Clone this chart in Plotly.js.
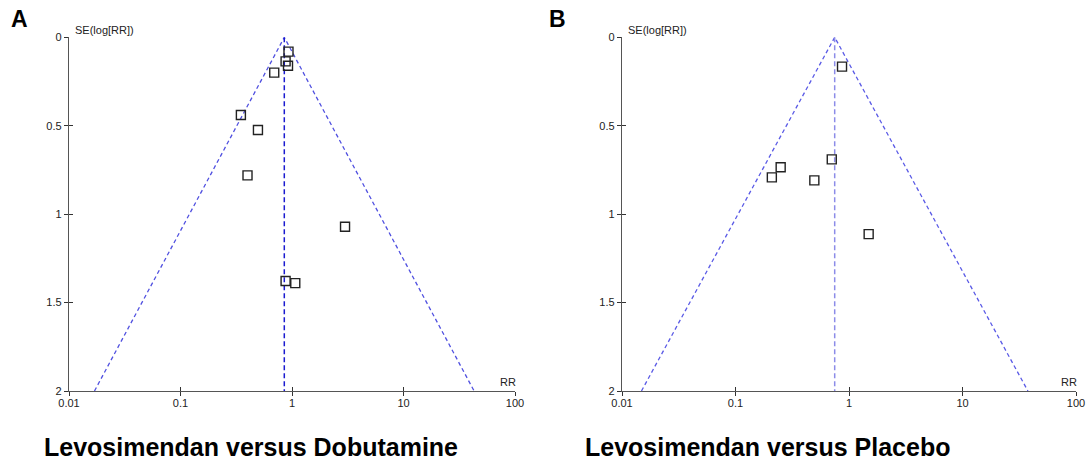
<!DOCTYPE html>
<html><head><meta charset="utf-8">
<script src="https://cdn.plot.ly/plotly-3.0.1.min.js"></script>
<style>html,body{margin:0;padding:0;background:#fff}#chart{width:1090px;height:465px}</style>
</head><body><div id="chart"></div>
<script>
// ---- data ----
const panelLabels = ['A', 'B'];
const comparisons = ['Levosimendan versus Dobutamine', 'Levosimendan versus Placebo'];
const rrA = [0.93, 0.876, 0.921, 0.693, 0.348, 0.495, 0.399, 2.99, 0.876, 1.07];
const seA = [0.081, 0.136, 0.161, 0.200, 0.439, 0.524, 0.781, 1.071, 1.378, 1.390];
const rrB = [0.868, 0.705, 0.250, 0.209, 0.495, 1.49];
const seB = [0.166, 0.690, 0.735, 0.792, 0.809, 1.113];
const pooledRR = [0.853, 0.748];
const seMax = 2;
const xTickVals = [0.01, 0.1, 1, 10, 100];
const xTickText = ['0.01', '0.1', '1', '10', '100'];
const yTickVals = [0, 0.5, 1, 1.5, 2];
const yTickText = ['0', '0.5', '1', '1.5', '2'];
const xTitle = 'RR';
const yTitle = 'SE(log[RR])';

// ---- styling ----
const W = 1090, H = 465;
const sans = '"Liberation Sans", Arial, sans-serif';
const axisColor = '#555';
const panels = [
  {rr: rrA, se: seA, pooled: pooledRR[0], xd: [69, 515], funnel: '#5050e0', vline: '#1a1ad0'},
  {rr: rrB, se: seB, pooled: pooledRR[1], xd: [622, 1076], funnel: '#5a5ae6', vline: '#8c8ce8'}
];
const yPix = [37.3, 391];
const yDomain = [1 - yPix[1] / H, 1 - yPix[0] / H];

const traces = [];
const layout = {
  width: W, height: H,
  margin: {l: 0, r: 0, t: 0, b: 0},
  paper_bgcolor: '#fff', plot_bgcolor: '#fff',
  showlegend: false,
  annotations: []
};

panels.forEach((p, i) => {
  const n = i + 1;
  const xa = n === 1 ? 'x' : 'x' + n;
  const ya = n === 1 ? 'y' : 'y' + n;
  const k = 1.96 * seMax;
  traces.push({
    x: [p.pooled * Math.exp(-k), p.pooled, p.pooled * Math.exp(k)],
    y: [seMax, 0, seMax],
    xaxis: xa, yaxis: ya, mode: 'lines', hoverinfo: 'skip',
    line: {color: p.funnel, width: 1.3, dash: '4px,3px'}
  });
  traces.push({
    x: [p.pooled, p.pooled], y: [0, seMax],
    xaxis: xa, yaxis: ya, mode: 'lines', hoverinfo: 'skip',
    line: {color: p.vline, width: 1.5, dash: '5px,3px'}
  });
  traces.push({
    x: p.rr, y: p.se, xaxis: xa, yaxis: ya, mode: 'markers', cliponaxis: false,
    marker: {symbol: 'square-open', size: 9, color: '#222', line: {width: 1.4, color: '#222'}}
  });
  traces.push({x: [1], y: [1], xaxis: 'x' + (n + 2), yaxis: ya, mode: 'none', hoverinfo: 'skip'});
  traces.push({x: [1], y: [1], xaxis: xa, yaxis: 'y' + (n + 2), mode: 'none', hoverinfo: 'skip'});

  const dom = [p.xd[0] / W, p.xd[1] / W];
  const xBase = {
    type: 'log', range: [-2, 2], tickvals: xTickVals, ticktext: xTickText,
    showgrid: false, zeroline: false, ticklen: 4, tickwidth: 1, tickcolor: '#333',
    tickfont: {family: sans, size: 11, color: '#222'}, fixedrange: true
  };
  const yBase = {
    range: [seMax, 0], tickvals: yTickVals, ticktext: yTickText,
    showgrid: false, zeroline: false, ticklen: 4, tickwidth: 1, tickcolor: '#333',
    tickfont: {family: sans, size: 11, color: '#222'}, fixedrange: true
  };
  layout[n === 1 ? 'xaxis' : 'xaxis' + n] = Object.assign({}, xBase, {
    domain: dom, anchor: ya, ticks: 'outside', showline: true, linecolor: axisColor, linewidth: 1.2,
    ticklabelstandoff: -2
  });
  layout[n === 1 ? 'yaxis' : 'yaxis' + n] = Object.assign({}, yBase, {
    domain: yDomain, anchor: xa, ticks: 'outside', showline: true, linecolor: axisColor, linewidth: 1.2
  });
  layout['xaxis' + (n + 2)] = Object.assign({}, xBase, {
    overlaying: xa, anchor: ya, ticks: 'inside', showline: false, showticklabels: false
  });
  layout['yaxis' + (n + 2)] = Object.assign({}, yBase, {
    overlaying: ya, anchor: xa, ticks: 'inside', showline: false, showticklabels: false
  });

  layout.annotations.push({
    xref: 'paper', yref: 'paper', x: (p.xd[0] + 4) / W, y: 1 - 30 / H,
    xanchor: 'left', yanchor: 'middle', showarrow: false, text: yTitle,
    font: {family: sans, size: 11, color: '#222'}
  });
  layout.annotations.push({
    xref: 'paper', yref: 'paper', x: (p.xd[1] - 7) / W, y: 1 - 382 / H,
    xanchor: 'center', yanchor: 'middle', showarrow: false, text: xTitle,
    font: {family: sans, size: 11, color: '#222'}
  });
  layout.annotations.push({
    xref: 'paper', yref: 'paper', x: (i === 0 ? 19.5 : 557) / W, y: 1 - 19 / H,
    xanchor: 'center', yanchor: 'middle', showarrow: false, text: '<b>' + panelLabels[i] + '</b>',
    font: {family: sans, size: 23, color: '#000'}
  });
  layout.annotations.push({
    xref: 'paper', yref: 'paper', x: (i === 0 ? 42 : 583) / W, y: 1 - 447 / H,
    xanchor: 'left', yanchor: 'middle', showarrow: false, text: '<b>' + comparisons[i] + '</b>',
    font: {family: sans, size: 25, color: '#000'}
  });
});

Plotly.newPlot('chart', traces, layout, {staticPlot: true, displayModeBar: false});
</script>
</body></html>
